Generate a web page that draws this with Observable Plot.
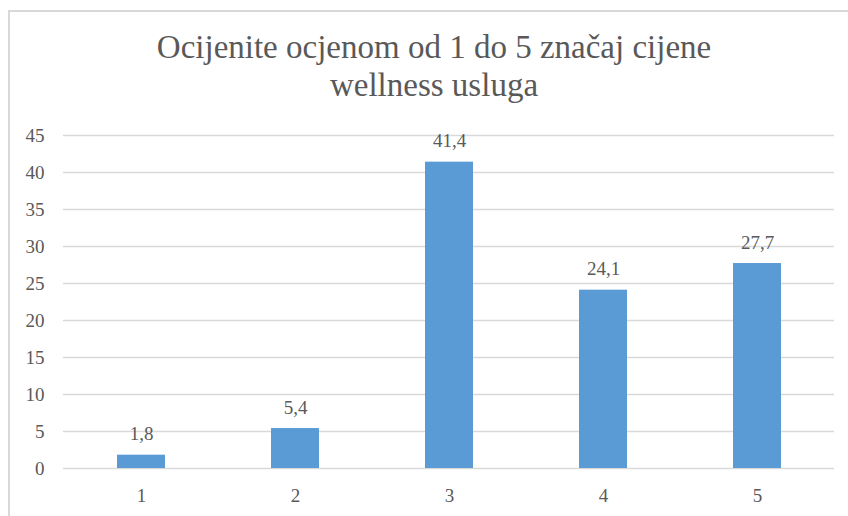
<!DOCTYPE html>
<html>
<head>
<meta charset="utf-8">
<script src="https://cdn.jsdelivr.net/npm/d3@7"></script>
<script src="https://cdn.jsdelivr.net/npm/@observablehq/plot@0.6"></script>
<style>
  html, body { margin: 0; padding: 0; background: #fff; overflow: hidden; }
  #wrap { position: relative; width: 848px; height: 516px; overflow: hidden; }
  #frame { position: absolute; left: 8px; top: 10px; width: 860px; height: 520px; border: 2px solid #d9d9d9; box-sizing: border-box; }
  #title { position: absolute; left: 0; top: 0; width: 868px; text-align: center; font-family: "Liberation Serif", "Times New Roman", serif; font-size: 33px; line-height: 38px; color: #595959; padding-top: 28px; }
  #chart { position: absolute; left: 0; top: 115px; }
</style>
</head>
<body>
<div id="wrap">
  <div id="frame"></div>
  <div id="title">Ocijenite ocjenom od 1 do 5 značaj cijene<br>wellness usluga</div>
  <div id="chart"></div>
</div>
<script>
const categories = ["1", "2", "3", "4", "5"];
const values = [1.8, 5.4, 41.4, 24.1, 27.7];
const labels = ["1,8", "5,4", "41,4", "24,1", "27,7"];
const yTicks = [0, 5, 10, 15, 20, 25, 30, 35, 40, 45];

const data = categories.map((c, i) => ({ cat: c, value: values[i], label: labels[i] }));

const chart = Plot.plot({
  width: 848,
  height: 401,
  marginTop: 20,
  marginBottom: 48,
  marginLeft: 63,
  marginRight: 14,
  style: { fontFamily: "'Liberation Serif', 'Times New Roman', serif", fontSize: "19px", color: "#595959", background: "transparent" },
  x: { domain: categories, paddingInner: 0.69, paddingOuter: 0.345, label: null },
  y: { domain: [0, 45], label: null },
  marks: [
    Plot.gridY(yTicks, { stroke: "#d9d9d9", strokeOpacity: 1, strokeWidth: 1.3 }),
    Plot.barY(data, { x: "cat", y: "value", fill: "#5b9bd5" }),
    Plot.text(data, { x: "cat", y: "value", text: "label", dy: -15, lineAnchor: "bottom", fill: "#595959", fontSize: 19 }),
    Plot.axisY(yTicks, { tickSize: 0, tickPadding: 19, fontSize: 19, fill: "#595959", label: null, tickFormat: d => String(d) }),
    Plot.axisX({ tickSize: 0, tickPadding: 20, fontSize: 19, fill: "#595959", label: null })
  ]
});
document.getElementById("chart").appendChild(chart);
</script>
</body>
</html>
